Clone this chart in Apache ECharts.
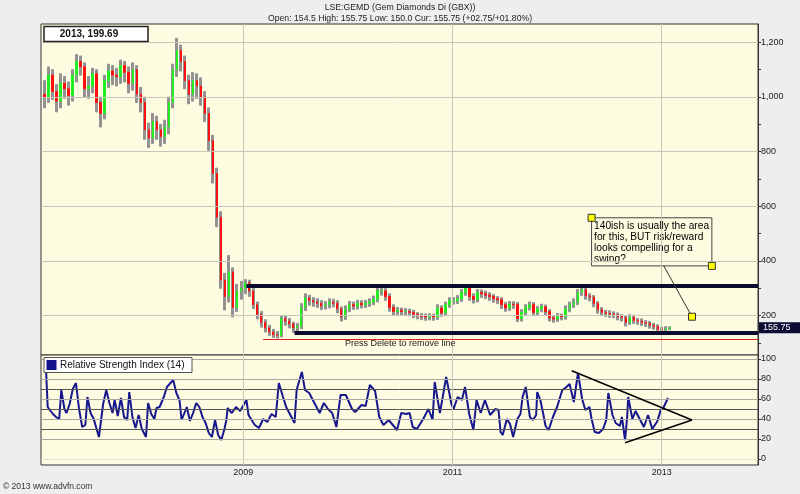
<!DOCTYPE html>
<html><head><meta charset="utf-8">
<script src="https://cdn.jsdelivr.net/npm/echarts@6/dist/echarts.min.js"></script>
<style>html,body{margin:0;padding:0;background:#eeeeee}#c{width:800px;height:494px}</style>
</head><body><div id="c"></div>
<script>
// ---- data ----
const startYear = 2007.10;          // first bar (decimal year)
const stepYears = 14 / 365.25;      // bi-weekly bars
// [open, close, low, high]
const candles = [
[1010,1000,960,1060],[1000,1080,980,1110],[1080,1020,990,1100],[1020,985,945,1045],[985,1050,960,1085],
[1050,1030,995,1075],[1030,1005,970,1055],[1005,1080,985,1100],[1080,1130,1055,1155],[1130,1110,1080,1150],
[1110,1030,1000,1125],[1030,1040,995,1075],[1040,1085,1015,1105],[1085,980,945,1100],[980,940,890,1000],
[940,1060,920,1080],[1060,1095,1035,1120],[1095,1080,1045,1115],[1080,1075,1040,1105],[1075,1115,1050,1135],
[1115,1090,1055,1130],[1090,1050,1015,1110],[1050,1100,1025,1125],[1100,1010,980,1115],[1010,980,945,1035],
[980,880,845,1000],[880,850,815,905],[850,910,830,940],[910,880,845,930],[880,855,820,900],
[855,890,830,915],[890,980,865,1000],[980,1100,960,1120],[1100,1170,1075,1215],[1170,1130,1095,1190],
[1130,1060,1030,1150],[1060,1010,975,1080],[1010,1060,985,1090],[1060,1040,995,1085],[1040,1000,970,1070],
[1000,940,910,1020],[940,840,805,960],[840,720,685,860],[720,560,525,740],[560,330,300,580],
[330,270,221,355],[270,360,250,420],[360,230,195,375],[230,290,215,315],[290,300,260,325],
[300,320,280,332],[320,290,270,330],[290,240,225,300],[240,205,188,250],[205,175,158,215],
[175,155,140,185],[155,140,128,165],[140,130,120,150],[130,128,118,142],[128,190,122,200],
[190,180,165,200],[180,170,155,190],[170,155,138,176],[155,160,142,172],[160,230,152,244],
[230,265,218,280],[265,255,238,275],[255,250,234,266],[250,245,230,262],[245,235,222,255],
[235,240,224,252],[240,250,228,262],[250,245,232,260],[245,225,210,255],[225,195,180,232],
[195,225,186,236],[225,240,214,252],[240,235,222,250],[235,245,224,256],[245,240,228,255],
[240,245,230,256],[245,250,234,262],[250,260,240,272],[260,290,250,302],[290,290,275,305],
[290,270,256,300],[270,230,216,280],[230,215,202,240],[215,220,204,230],[220,215,202,228],
[215,215,202,226],[215,212,199,224],[212,205,192,220],[205,200,188,212],[200,197,185,208],
[197,195,183,206],[195,197,184,207],[197,195,183,206],[195,228,186,240],[228,210,198,236],
[210,240,200,250],[240,255,230,266],[255,255,242,266],[255,262,244,274],[262,285,252,296],
[285,300,274,310],[300,270,256,306],[270,260,246,280],[260,285,250,296],[285,280,266,294],
[280,275,262,290],[275,270,256,284],[270,262,249,278],[262,258,244,270],[258,240,226,266],
[240,228,216,249],[228,242,219,252],[242,240,226,251],[240,190,178,248],[190,212,180,222],
[212,230,202,240],[230,240,220,250],[240,212,200,248],[212,225,202,234],[225,232,214,242],
[232,215,202,239],[215,192,180,222],[192,188,176,200],[188,198,179,208],[198,196,184,206],
[196,225,187,236],[225,240,214,250],[240,250,230,262],[250,285,240,296],[285,295,274,307],
[295,272,260,302],[272,268,254,280],[268,245,232,274],[245,222,209,252],[222,212,200,230],
[212,208,197,220],[208,205,194,218],[205,203,192,214],[203,196,184,210],[196,192,180,204],
[192,175,162,199],[175,195,168,204],[195,182,171,202],[182,180,168,190],[180,175,164,188],
[175,172,160,182],[172,165,154,179],[165,160,150,172],[160,150,142,167],[150,148,140,158],
[148,152,142,160],[152,155.75,148,159]
];
// RSI(14): [decimal year, value]
const rsi = [
[2007.11,99],[2007.13,52],[2007.15,49],[2007.18,45],[2007.21,42],[2007.24,40],[2007.26,69],[2007.29,50],
[2007.31,46],[2007.34,55],[2007.37,70],[2007.40,76],[2007.43,50],[2007.46,32],[2007.49,34],[2007.51,62],
[2007.54,46],[2007.57,40],[2007.62,22],[2007.66,55],[2007.69,69],[2007.72,56],[2007.75,46],[2007.77,59],
[2007.80,43],[2007.83,61],[2007.86,42],[2007.89,39],[2007.91,67],[2007.94,42],[2007.97,31],[2008.00,44],
[2008.03,30],[2008.07,22],[2008.09,56],[2008.12,45],[2008.15,40],[2008.17,51],[2008.20,52],[2008.24,62],
[2008.27,72],[2008.33,79],[2008.36,66],[2008.39,59],[2008.41,39],[2008.46,52],[2008.49,38],[2008.52,46],
[2008.55,56],[2008.58,52],[2008.61,42],[2008.64,36],[2008.67,26],[2008.70,22],[2008.73,39],[2008.76,24],
[2008.79,19],[2008.82,30],[2008.84,40],[2008.85,51],[2008.89,46],[2008.93,52],[2008.97,48],[2009.03,59],
[2009.05,44],[2009.08,39],[2009.11,34],[2009.15,31],[2009.19,40],[2009.23,37],[2009.27,45],[2009.31,42],
[2009.34,76],[2009.38,62],[2009.41,52],[2009.46,42],[2009.49,36],[2009.51,69],[2009.56,87],[2009.59,69],
[2009.63,66],[2009.67,58],[2009.70,52],[2009.73,46],[2009.77,56],[2009.81,50],[2009.85,46],[2009.89,32],
[2009.93,64],[2009.98,64],[2010.04,50],[2010.07,47],[2010.13,54],[2010.17,53],[2010.21,74],[2010.26,68],
[2010.30,42],[2010.34,34],[2010.39,39],[2010.47,29],[2010.51,46],[2010.56,45],[2010.59,46],[2010.62,32],
[2010.66,30],[2010.72,40],[2010.77,50],[2010.81,39],[2010.83,77],[2010.88,46],[2010.94,82],[2010.99,55],
[2011.01,50],[2011.05,62],[2011.09,59],[2011.12,72],[2011.16,45],[2011.20,29],[2011.23,59],[2011.27,46],
[2011.31,59],[2011.36,44],[2011.41,50],[2011.44,49],[2011.46,27],[2011.48,24],[2011.52,40],[2011.55,35],
[2011.58,22],[2011.62,40],[2011.65,45],[2011.67,62],[2011.70,72],[2011.74,42],[2011.77,39],[2011.80,44],
[2011.81,67],[2011.84,59],[2011.87,44],[2011.89,33],[2011.92,29],[2011.96,42],[2012.00,52],[2012.05,69],
[2012.09,72],[2012.12,75],[2012.16,57],[2012.20,86],[2012.24,60],[2012.27,49],[2012.31,52],[2012.33,40],
[2012.36,27],[2012.40,26],[2012.44,30],[2012.47,39],[2012.49,66],[2012.53,44],[2012.56,36],[2012.60,33],
[2012.62,42],[2012.65,19],[2012.67,42],[2012.68,62],[2012.72,40],[2012.75,48],[2012.79,40],[2012.83,32],
[2012.87,44],[2012.91,30],[2012.96,38],[2012.99,49],[2013.02,52],[2013.06,61]
];
const priceTicks = [200, 400, 600, 800, 1000, 1200];
const priceMinorTicks = [100, 300, 500, 700, 900, 1100];
const rsiTicks = [0, 20, 40, 60, 80, 100];
const rsiDarkLevels = [30, 50, 70];
const yearTicks = [2009, 2011, 2013];
// drawn lines / notes (data coordinates)
const resistance = [[2009.03, 310], [2013.921, 310]];
const support = [[2009.49, 136], [2013.921, 136]];
const redLine = [[2009.19, 114], [2013.921, 114]];
const noteBox = [[2012.33, 558], [2013.48, 382]];
const noteTarget = [2013.29, 196];
const noteLink = [[2013.02, 382], [2013.29, 196]];
const rsiUpper = [[2012.14, 88.3], [2013.29, 39]];
const rsiLower = [[2012.65, 16.3], [2013.29, 39]];
const noteText = '140ish is usually the area\nfor this, BUT risk/reward\nlooks compelling for a\nswing?';
const lastPrice = 155.75;
const xMin = 2007.066, xMax = 2013.921;

// ---- build ----
const FONT = 'Liberation Sans, Arial, sans-serif';
// grey high-low range of each bar, coloured open-close body on top
const rangeData = candles.map((c, i) => [startYear + i * stepYears, c[2], c[3], c[2], c[3]]);
const bodyData = candles.map((c, i) => [startYear + i * stepYears, c[0], c[1], Math.min(c[0], c[1]), Math.max(c[0], c[1])]);

const chart = echarts.init(document.getElementById('c'), null, {renderer: 'canvas'});
const lineSeg = (pts, style) => [{coord: pts[0], lineStyle: style}, {coord: pts[1]}];

const option = {
  animation: false,
  backgroundColor: '#eeeeee',
  textStyle: {fontFamily: FONT},
  grid: [
    {left: 41, right: 42, top: 24, height: 331, show: true, backgroundColor: '#fdfce0', borderColor: '#333', borderWidth: 1},
    {left: 41, right: 42, top: 355, height: 110, show: true, backgroundColor: '#fdfce0', borderColor: '#333', borderWidth: 1}
  ],
  xAxis: [
    {type: 'value', gridIndex: 0, min: xMin, max: xMax, show: false, splitLine: {show: false}},
    {type: 'value', gridIndex: 1, min: xMin, max: xMax, axisLine: {show: false},
     axisTick: {show: true, customValues: yearTicks, length: 3, lineStyle: {color: '#555'}},
     axisLabel: {customValues: yearTicks, formatter: v => String(v), fontSize: 9, color: '#222', margin: 3},
     splitLine: {show: false}}
  ],
  yAxis: [
    {type: 'value', gridIndex: 0, position: 'right', min: 56, max: 1267,
     axisLine: {show: true, lineStyle: {color: '#333'}},
     axisTick: {show: true, customValues: priceTicks.concat(priceMinorTicks), length: 3, lineStyle: {color: '#333'}},
     axisLabel: {customValues: priceTicks, fontSize: 9, color: '#222', margin: 3},
     splitLine: {show: false}},
    {type: 'value', gridIndex: 1, position: 'right', min: -6, max: 104,
     axisLine: {show: true, lineStyle: {color: '#333'}},
     axisTick: {show: true, customValues: rsiTicks, length: 3, lineStyle: {color: '#333'}},
     axisLabel: {customValues: rsiTicks, fontSize: 9, color: '#222', margin: 3},
     splitLine: {show: false}}
  ],
  series: [
    {type: 'line', name: 'gridMain', xAxisIndex: 0, yAxisIndex: 0, data: [], z: 1, silent: true,
     markLine: {silent: true, symbol: 'none', label: {show: false}, animation: false,
       lineStyle: {color: '#c6c6bc', width: 1, type: 'solid'},
       data: priceTicks.map(v => ({yAxis: v})).concat(yearTicks.map(v => ({xAxis: v})))}},
    {type: 'candlestick', name: 'range', xAxisIndex: 0, yAxisIndex: 0, data: rangeData,
     encode: {x: 0, y: [1, 2, 3, 4]}, barWidth: 2.5, z: 2,
     itemStyle: {color: '#929292', color0: '#929292', borderColor: '#929292', borderColor0: '#929292', borderWidth: 1}},
    {type: 'candlestick', name: 'body', xAxisIndex: 0, yAxisIndex: 0, data: bodyData,
     encode: {x: 0, y: [1, 2, 3, 4]}, barWidth: 2, z: 3,
     itemStyle: {color: '#22ee22', color0: '#ff1010', borderColor: '#22ee22', borderColor0: '#ff1010', borderWidth: 1}},
    {type: 'line', name: 'notes', xAxisIndex: 0, yAxisIndex: 0, data: [], z: 4, silent: true,
     markLine: {silent: true, symbol: 'none', label: {show: false}, animation: false,
       data: [
         lineSeg(resistance, {color: '#0b0b2e', width: 4, type: 'solid'}),
         lineSeg(support, {color: '#0b0b2e', width: 4, type: 'solid'}),
         lineSeg(redLine, {color: '#e02020', width: 1, type: 'solid'}),
         lineSeg(noteLink, {color: '#333', width: 1, type: 'solid'})
       ]},
     markArea: {silent: true,
       itemStyle: {color: 'rgba(0,0,0,0)', borderColor: '#444', borderWidth: 1},
       label: {show: true, position: 'insideTopLeft', distance: 3, formatter: noteText,
               color: '#000', fontSize: 10.2, lineHeight: 11, fontFamily: FONT},
       data: [[{coord: noteBox[0]}, {coord: noteBox[1]}]]},
     markPoint: {silent: true, animation: false,
       symbol: 'rect', symbolSize: 7,
       itemStyle: {color: '#ffff00', borderColor: '#333', borderWidth: 1},
       label: {show: false},
       data: [
         {coord: noteBox[0]}, {coord: noteBox[1]}, {coord: noteTarget},
         {coord: [2010.50, 97], symbolSize: 0,
          label: {show: true, position: 'inside', formatter: 'Press Delete to remove line', fontSize: 9, color: '#222'}}
       ]}},
    {type: 'line', name: 'gridRsi', xAxisIndex: 1, yAxisIndex: 1, data: [], z: 1, silent: true,
     markLine: {silent: true, symbol: 'none', label: {show: false}, animation: false,
       data: rsiTicks.map(v => ({yAxis: v, lineStyle: {color: v === 0 ? '#c8c8bc' : '#a8a8a0', width: 1, type: v === 0 ? 'dotted' : 'solid'}}))
         .concat(rsiDarkLevels.map(v => ({yAxis: v, lineStyle: {color: '#555', width: 1, type: 'solid'}})))
         .concat(yearTicks.map(v => ({xAxis: v, lineStyle: {color: '#c6c6bc', width: 1, type: 'solid'}})))}},
    {type: 'line', name: 'Relative Strength Index (14)', xAxisIndex: 1, yAxisIndex: 1, data: rsi,
     showSymbol: false, symbol: 'none', z: 3, lineStyle: {color: '#16168f', width: 2}},
    {type: 'line', name: 'rsiTriangle', xAxisIndex: 1, yAxisIndex: 1, data: [], z: 4, silent: true,
     markLine: {silent: true, symbol: 'none', label: {show: false}, animation: false,
       data: [lineSeg(rsiUpper, {color: '#000', width: 1.5, type: 'solid'}),
              lineSeg(rsiLower, {color: '#000', width: 1.5, type: 'solid'})]}}
  ]
};
chart.setOption(option);

const py = chart.convertToPixel({yAxisIndex: 0}, lastPrice);
chart.setOption({
  graphic: [
    {type: 'text', x: 400, y: 8, style: {text: 'LSE:GEMD (Gem Diamonds Di (GBX))', font: '8.7px ' + FONT, fill: '#222', align: 'center', verticalAlign: 'middle'}},
    {type: 'text', x: 400, y: 18.5, style: {text: 'Open: 154.5 High: 155.75 Low: 150.0 Cur: 155.75 (+02.75/+01.80%)', font: '8.7px ' + FONT, fill: '#222', align: 'center', verticalAlign: 'middle'}},
    {type: 'rect', shape: {x: 44, y: 26.5, width: 104, height: 15}, style: {fill: '#ffffff', stroke: '#222', lineWidth: 1.5}, z: 100},
    {type: 'text', x: 89, y: 34.5, style: {text: '2013, 199.69', font: 'bold 10px ' + FONT, fill: '#111', align: 'center', verticalAlign: 'middle'}, z: 101},
    {type: 'rect', shape: {x: 44, y: 357.5, width: 148, height: 15}, style: {fill: '#ffffff', stroke: '#555', lineWidth: 1}, z: 100},
    {type: 'rect', shape: {x: 46.5, y: 360, width: 10, height: 10}, style: {fill: '#13138c'}, z: 101},
    {type: 'text', x: 60, y: 365.5, style: {text: 'Relative Strength Index (14)', font: '10px ' + FONT, fill: '#111', align: 'left', verticalAlign: 'middle'}, z: 101},
    {type: 'rect', shape: {x: 759, y: py - 5.5, width: 41, height: 11}, style: {fill: '#0b0b33'}, z: 100},
    {type: 'text', x: 763, y: py, style: {text: '155.75', font: '9px ' + FONT, fill: '#ffffff', align: 'left', verticalAlign: 'middle'}, z: 101},
    {type: 'text', x: 3, y: 487, style: {text: '© 2013 www.advfn.com', font: '8.5px ' + FONT, fill: '#333', align: 'left', verticalAlign: 'middle'}}
  ]
});
</script></body></html>
